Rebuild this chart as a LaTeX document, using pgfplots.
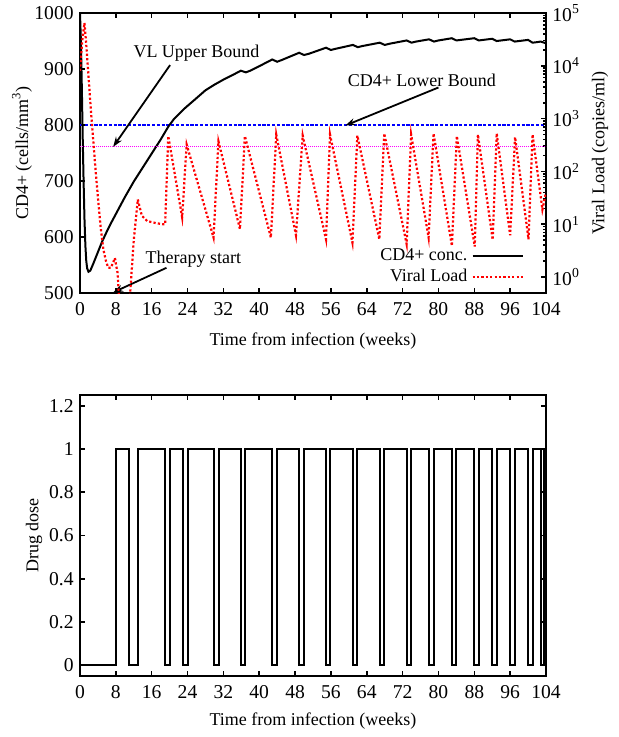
\documentclass[border=0pt]{standalone}
\usepackage{fontspec}
\setmainfont{Liberation Serif}
\usepackage{pgfplots}
\pgfplotsset{compat=1.18}
\usetikzlibrary{arrows.meta}

\definecolor{vlred}{RGB}{255,0,0}
\definecolor{cdblue}{RGB}{0,0,255}
\definecolor{bndmag}{RGB}{255,0,255}

\pgfplotsset{
  base/.style={
    scale only axis, width=233bp,
    xmin=0, xmax=104, xtick={0,8,...,104},
    tick align=inside,
    major tick length=2.5bp, minor tick length=1.4bp,
    axis line style={line width=0.9bp},
    every tick/.style={black, line width=0.8bp},
    /pgf/number format/assume math mode=true,
    /pgf/number format/1000 sep={},
    tick label style={font=\fontsize{9.8bp}{11bp}\selectfont},
    xticklabel style={yshift=-1.5bp},
    label style={font=\fontsize{9bp}{11bp}\selectfont},
    xlabel={Time from infection (weeks)},
    xlabel style={at={([yshift=-24bp]axis description cs:0.5,0)}, anchor=center},
  },
}

\begin{document}
\fontsize{9bp}{11bp}\selectfont
\begin{tikzpicture}
\path[use as bounding box] (-40bp,146.5bp) rectangle (269.5bp,-222bp);

% top: CD4+ on the left axis
\begin{axis}[base, height=140bp,
  ymin=500, ymax=1000, ytick={500,600,...,1000}, ytick pos=left,
  ylabel={CD4+ (cells/mm\textsuperscript{3})},
  ylabel style={at={([xshift=-29bp]axis description cs:0,0.5)}, anchor=center},
]
\addplot[cdblue, line width=0.7bp, dash pattern=on 1.6bp off 0.8bp, forget plot]
  coordinates {(0,800) (104,800)};
\addplot[black, line width=1bp] coordinates {
(0,1000) (0.2,950) (0.4,870) (0.6,780) (0.8,700) (1.0,632) (1.2,585) (1.4,557)
(1.6,544) (1.9,538) (2.3,540) (3,553) (4,573) (5,593) (6,610) (7,626) (8,641)
(10,671) (12,699) (14,724) (16,749) (18,774) (19.7,797) (21,811) (23.4,830)
(26,848) (28,862) (30,872) (32,881) (34,889) (35.9,897) (37,894) (38,897)
(40,905) (42.9,917) (44,913) (45,916) (48.9,929) (50,925) (51,927) (54.9,938)
(56,934) (57,936) (60.9,943) (62,939) (63,941) (66.9,947) (68,943) (69,945)
(72.9,951) (74,947) (75,949) (77.9,953) (79,949) (80,951) (83,955) (84,951)
(85,952) (88,955) (89,951) (90,952) (92,954) (93,950) (94,951) (96,953)
(97,949) (98,950) (100,952) (101,947) (102,948) (102.8,949) (104,946)};

\draw[-{Stealth[length=5bp,width=3.5bp]}, line width=0.9bp]
  (axis cs:20.1,907) -- (axis cs:7.4,761);
\node at (axis cs:26.0,928) {VL Upper Bound};
\draw[-{Stealth[length=5bp,width=3.5bp]}, line width=0.9bp]
  (axis cs:80.0,867) -- (axis cs:59.2,799);
\node at (axis cs:76.3,880) {CD4+ Lower Bound};
\draw[-{Stealth[length=5bp,width=3.5bp]}, line width=0.9bp]
  (axis cs:19.3,545) -- (axis cs:7.4,501);
\node at (axis cs:25.3,560) {Therapy start};
\end{axis}

% top: viral load on the right, log axis
\begin{axis}[base, height=140bp,
  axis x line=none, axis y line*=right,
  ymode=log, ymin=0.5, ymax=100000,
  ytick={1,10,100,1000,10000,100000},
  yticklabels={10\textsuperscript{0},10\textsuperscript{1},10\textsuperscript{2},10\textsuperscript{3},10\textsuperscript{4},10\textsuperscript{5}},
  ylabel={Viral Load (copies/ml)},
  ylabel style={at={([xshift=27bp]axis description cs:1,0.5)}, anchor=center},
  legend plot pos=right, legend cell align=right,
  legend image code/.code={\draw[#1] (0bp,0bp) -- (25bp,0bp);},
  legend style={draw=none, fill=none, inner sep=0pt, row sep=-1bp,
    at={([xshift=-11bp,yshift=2bp]axis description cs:1,0)}, anchor=south east,
    font=\fontsize{9bp}{11bp}\selectfont},
]
\addlegendimage{black, line width=1bp}
\addlegendentry{CD4+ conc.}
\addplot[bndmag, line width=0.5bp, dash pattern=on 0.5bp off 0.5bp, forget plot]
  coordinates {(0,300) (104,300)};
\addplot[vlred, line width=1.1bp, dash pattern=on 1.1bp off 1.1bp] coordinates {
(0,8000) (0.5,30000) (1.0,65000) (1.4,25000) (1.9,6300) (2.5,1200) (3.0,350)
(3.5,100) (4.1,26) (4.6,9) (5.2,3.4) (5.8,2) (6.3,1.5) (6.9,1.5) (7.4,1.9)
(7.8,2.3) (8.1,1.6) (8.4,1.2) (8.8,0.3) (9.2,0.05) (10.8,0.05) (11.2,0.5)
(12.0,5) (12.9,29.5) (13.8,14.5) (15,11.5) (16,11) (17,10.5) (18.6,10)
(19.0,10) (19.7,468) (22.8,13.5) (23.8,324) (29.8,5.6) (30.9,372) (35.7,8.1)
(36.8,468) (42.6,5.6) (43.8,501) (48.2,6.2) (49.7,479) (54.9,5.2) (55.8,501)
(60.8,4.5) (61.9,479) (66.8,5.2) (67.9,525) (72.9,4.2) (73.9,501) (77.8,5.6)
(78.9,525) (83.0,3.9) (84.1,468) (88.1,3.8) (88.8,501) (92.1,5.1) (93.0,525)
(96.0,6.2) (97.1,447) (100.1,5.2) (101.0,501) (103.2,19) (104,40)};
\addlegendentry{Viral Load}
\end{axis}

% bottom: drug dose
\begin{axis}[base, at={(0,-191.5bp)}, height=140.5bp,
  ymin=-0.05, ymax=1.25, ytick={0,0.2,0.4,0.6,0.8,1,1.2},
  xlabel style={at={([yshift=-22.5bp]axis description cs:0.5,0)}, anchor=center},
  ylabel={Drug dose},
  ylabel style={at={([xshift=-23bp]axis description cs:0,0.5)}, anchor=center},
]
\addplot[black, line width=1bp] coordinates {
(0,0) (8,0) (8,1) (10.9,1) (10.9,0) (13,0) (13,1) (19,1) (19,0) (20,0) (20,1)
(23,1) (23,0) (24,0) (24,1) (30,1) (30,0) (31,0) (31,1) (35.9,1) (35.9,0)
(36.9,0) (36.9,1) (42.9,1) (42.9,0) (43.9,0) (43.9,1) (48.9,1) (48.9,0)
(49.9,0) (49.9,1) (54.9,1) (54.9,0) (55.9,0) (55.9,1) (60.9,1) (60.9,0)
(61.9,0) (61.9,1) (66.9,1) (66.9,0) (67.9,0) (67.9,1) (72.9,1) (72.9,0)
(73.9,0) (73.9,1) (77.9,1) (77.9,0) (78.9,0) (78.9,1) (83,1) (83,0) (84,0)
(84,1) (88,1) (88,0) (89,0) (89,1) (92,1) (92,0) (93,0) (93,1) (96,1) (96,0)
(97,0) (97,1) (100,1) (100,0) (101,0) (101,1) (102.8,1) (102.8,0) (103.6,0)
(103.6,1) (104,1)};
\end{axis}
\end{tikzpicture}
\end{document}
